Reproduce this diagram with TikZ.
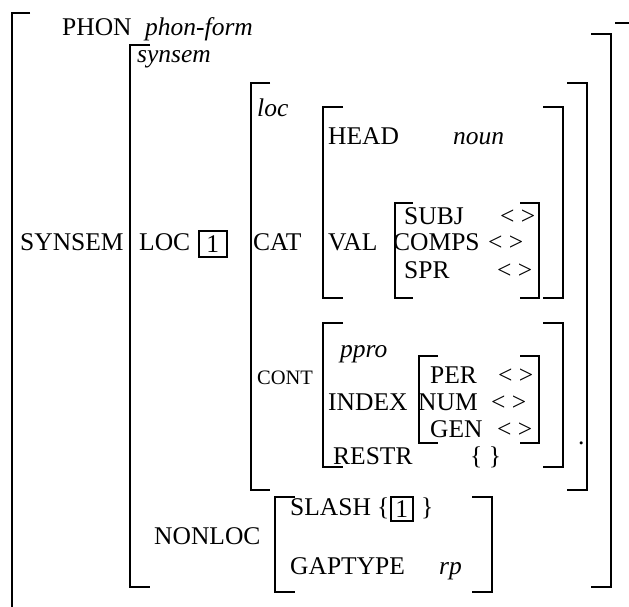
\documentclass[tikz,border=0pt]{standalone}
\usepackage{fontspec}
\setmainfont{Liberation Serif}
\usepackage{tikz}
\usetikzlibrary{positioning}

\begin{document}
\begin{tikzpicture}[x=1pt, y=-1pt,
    feat/.style={font=\fontsize{25.5pt}{30pt}\selectfont, inner sep=0pt, anchor=base west},
    small/.style={font=\fontsize{20.5pt}{24pt}\selectfont, inner sep=0pt, anchor=base west},
    val/.style={font=\fontsize{25.5pt}{30pt}\selectfont\itshape, inner sep=0pt, anchor=base west},
    tag/.style={draw, line width=1.6pt, font=\fontsize{25.5pt}{30pt}\selectfont, inner sep=0pt, anchor=north west},
    brk/.style={line width=2pt}]
  \useasboundingbox (0,0) rectangle (629,607);

  % Outer matrix
  \draw[brk] (30,13) -- (12,13) -- (12,608);
  \draw[brk] (615,23) -- (629,23);
  \node[feat] (phon) at (62,36) {PHON};
  \node[val] (phonval) at (145,36) {phon-form};
  \node[feat] (synsem) at (20,250) {SYNSEM};

  % synsem
  \draw[brk] (150,45) -- (130,45) -- (130,587) -- (150,587);
  \draw[brk] (591,34) -- (611,34) -- (611,587) -- (591,587);
  \node[val] (synsemtype) at (137,63) {synsem};
  \node[feat] (loc) at (139,250) {LOC};
  \node[tag, minimum width=28pt, minimum height=26pt] (tagA) at (198,230) {1};
  \node[feat] (nonloc) at (154,544) {NONLOC};

  % loc
  \draw[brk] (270,83) -- (251,83) -- (251,490) -- (270,490);
  \draw[brk] (567,83) -- (587,83) -- (587,490) -- (567,490);
  \node[val] (loctype) at (257,117) {loc};
  \node[feat] (cat) at (253,250) {CAT};
  \node[small] (cont) at (257,384) {CONT};

  % CAT
  \draw[brk] (343,107) -- (323,107) -- (323,298) -- (343,298);
  \draw[brk] (543,107) -- (563,107) -- (563,298) -- (543,298);
  \node[feat] (head) at (328,145) {HEAD};
  \node[val] (headval) at (453,145) {noun};
  \node[feat] (val) at (328,250) {VAL};

  % VAL
  \draw[brk] (413,203) -- (395,203) -- (395,298) -- (413,298);
  \draw[brk] (520,203) -- (539,203) -- (539,298) -- (520,298);
  \node[feat] (subj) at (404,224) {SUBJ};
  \node[feat] (subjval) at (500,224) {< >};
  \node[feat] (comps) at (393,250) {COMPS};
  \node[feat] (compsval) at (488,250) {< >};
  \node[feat] (spr) at (404,278) {SPR};
  \node[feat] (sprval) at (497,278) {< >};

  % CONT
  \draw[brk] (343,323) -- (323,323) -- (323,467) -- (343,467);
  \draw[brk] (543,323) -- (563,323) -- (563,467) -- (543,467);
  \node[val] (conttype) at (340,357) {ppro};
  \node[feat] (index) at (328,410) {INDEX};
  \node[feat] (restr) at (333,464) {RESTR};
  \node[feat] (restrval) at (470,464) {\{ \}};

  % INDEX
  \draw[brk] (438,356) -- (419,356) -- (419,443) -- (438,443);
  \draw[brk] (520,356) -- (539,356) -- (539,443) -- (520,443);
  \node[feat] (per) at (430,383) {PER};
  \node[feat] (perval) at (498,383) {< >};
  \node[feat] (num) at (418,410) {NUM};
  \node[feat] (numval) at (491,410) {< >};
  \node[feat] (gen) at (430,437) {GEN};
  \node[feat] (genval) at (497,437) {< >};
  \node[feat] (dot) at (578,444) {.};

  % NONLOC
  \draw[brk] (295,497) -- (275,497) -- (275,592) -- (295,592);
  \draw[brk] (472,497) -- (492,497) -- (492,592) -- (472,592);
  \node[feat] (slash) at (290,515) {SLASH};
  \node[feat] (lbrace) at (377,515) {\{};
  \node[tag, minimum width=22pt, minimum height=24pt] (tagB) at (390,496) {1};
  \node[feat] (rbrace) at (421,515) {\}};
  \node[feat] (gaptype) at (290,574) {GAPTYPE};
  \node[val] (gapval) at (439,574) {rp};

\end{tikzpicture}
\end{document}
